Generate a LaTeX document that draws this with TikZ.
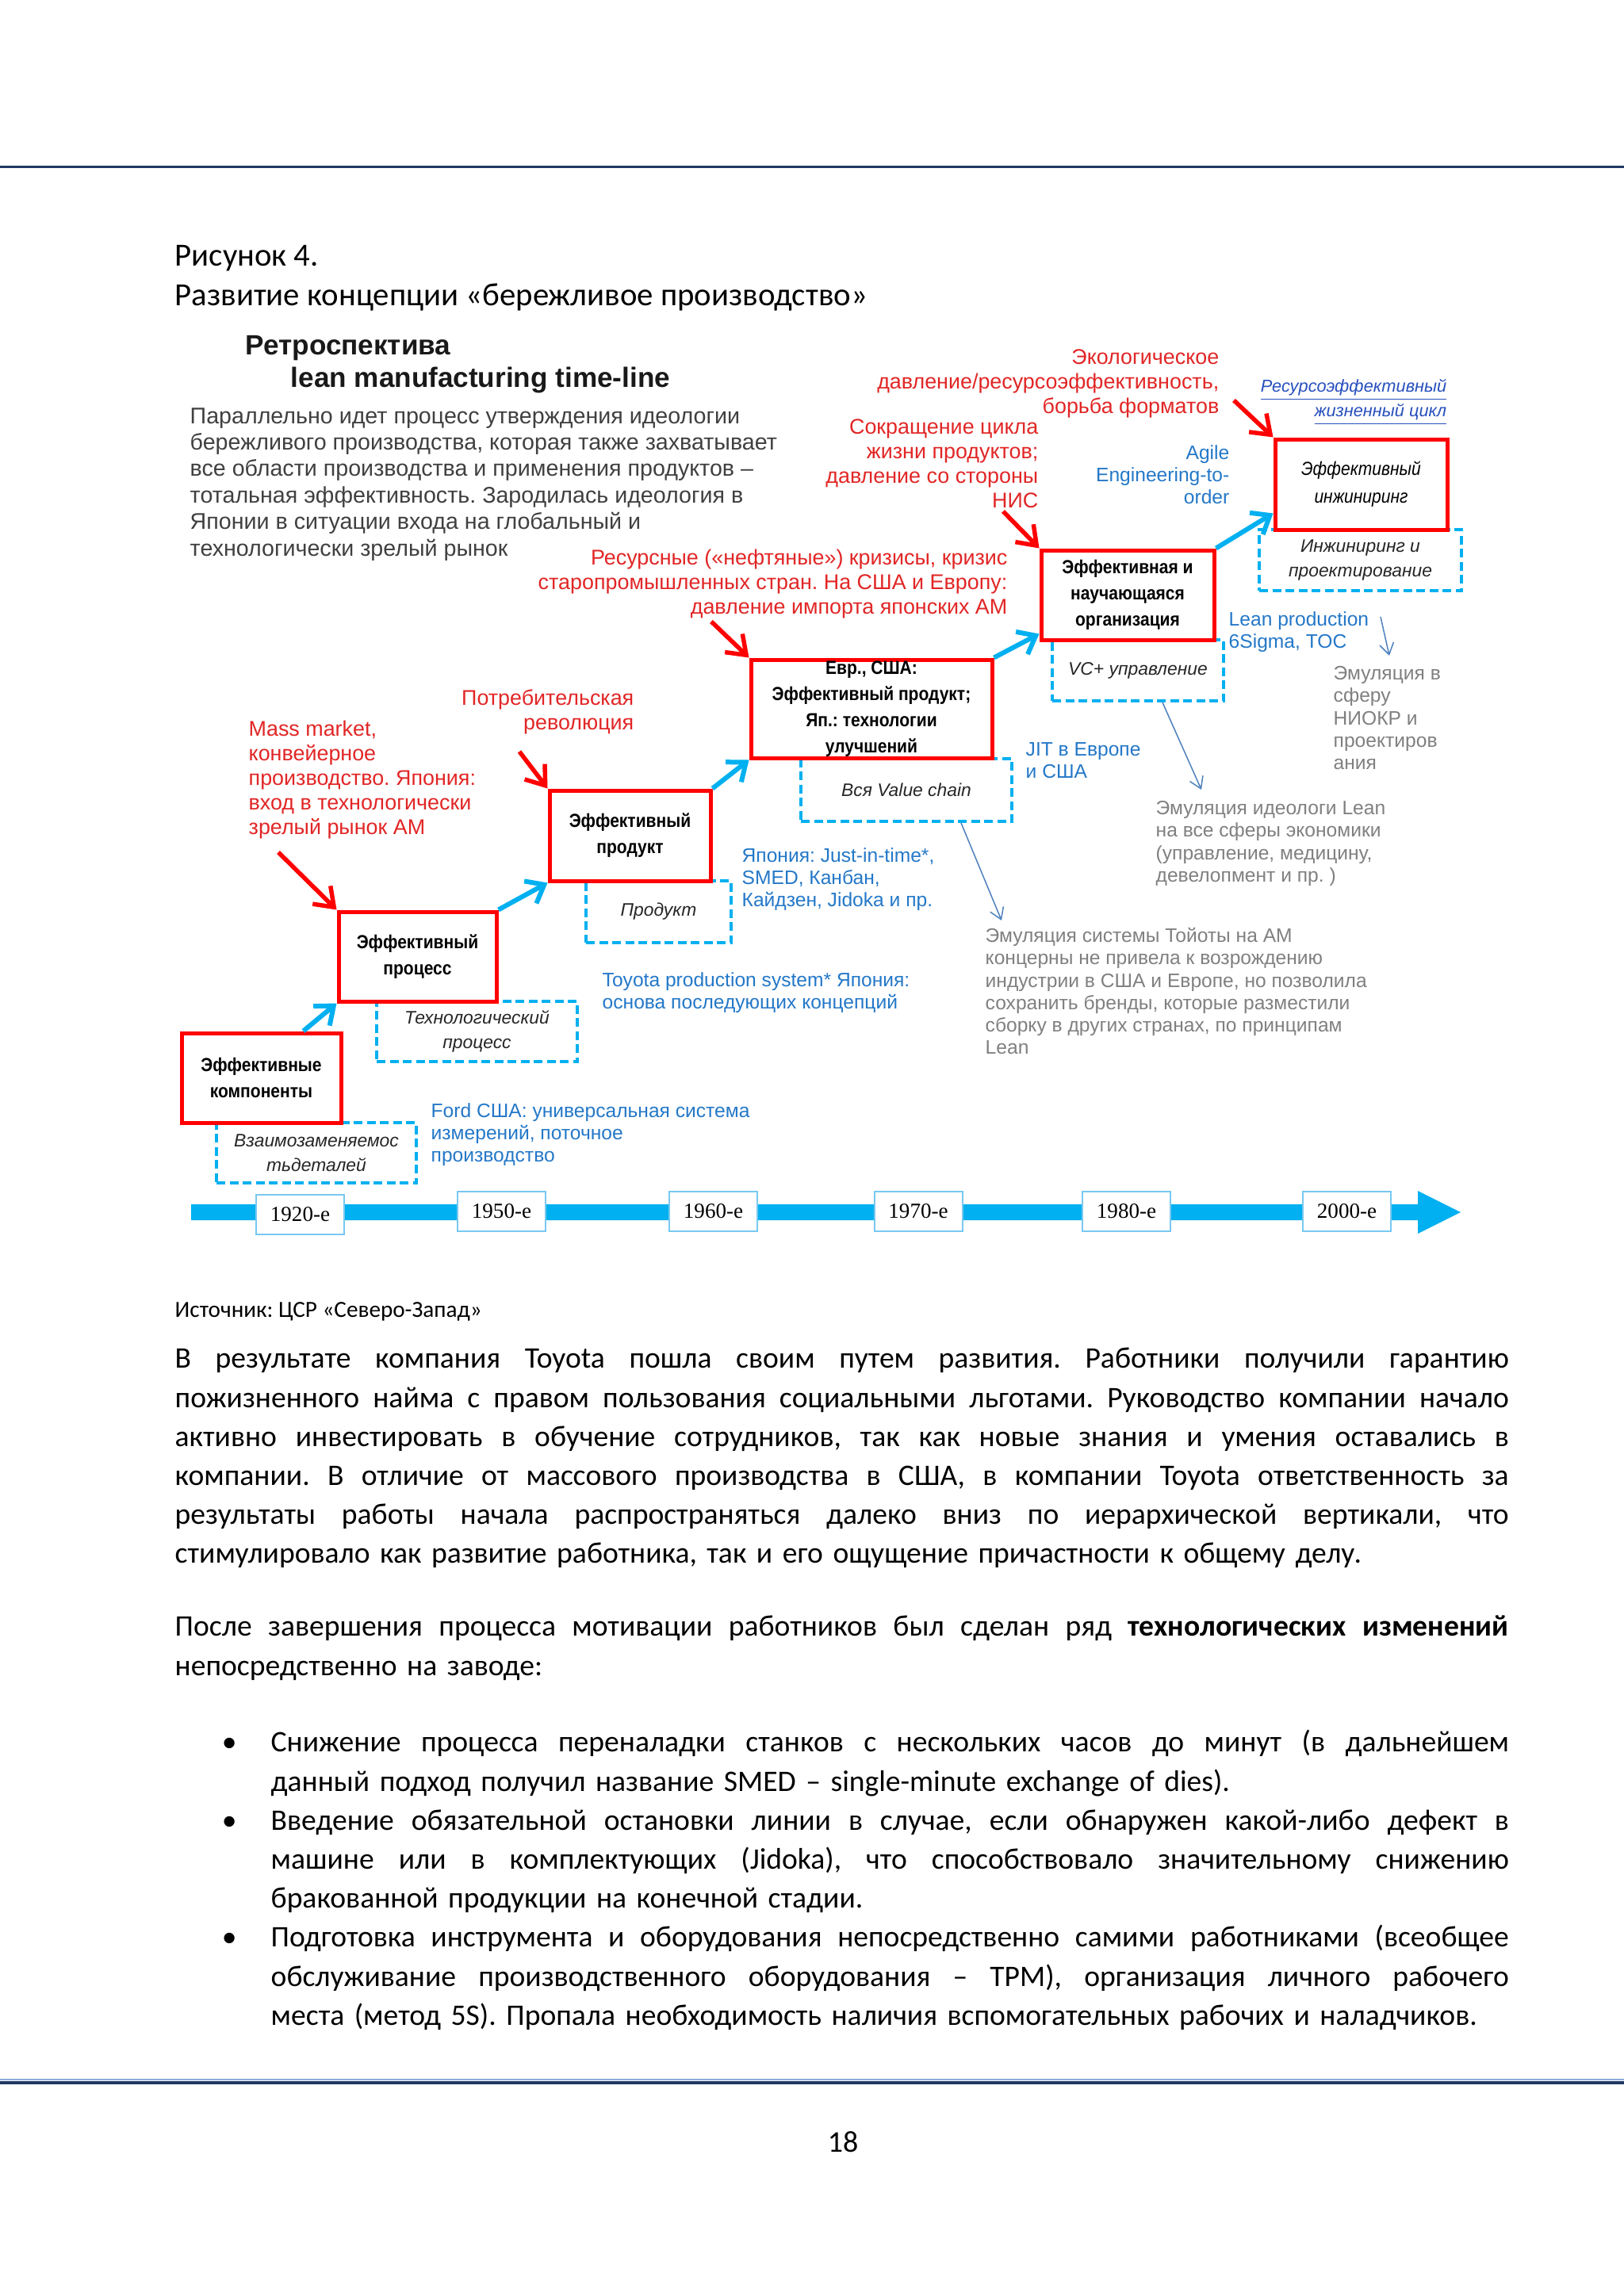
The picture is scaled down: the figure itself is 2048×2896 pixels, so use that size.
\documentclass[tikz,border=0pt]{standalone}
\usepackage{fontspec}
\setmainfont{Carlito}
\newfontfamily\arialf{Liberation Sans}
\newfontfamily\boxf[FakeStretch=0.88]{Liberation Sans}
\newfontfamily\yearf{Liberation Serif}
\usetikzlibrary{arrows.meta,calc}
\definecolor{navy}{RGB}{31,56,100}
\definecolor{navylight}{RGB}{142,170,219}
\definecolor{boxred}{RGB}{255,0,0}
\definecolor{txtred}{RGB}{226,38,38}
\definecolor{cyanb}{RGB}{0,176,240}
\definecolor{txtblue}{RGB}{36,120,200}
\definecolor{linkblue}{RGB}{40,80,190}
\definecolor{txtgray}{RGB}{128,128,128}
\definecolor{descgray}{RGB}{64,64,64}
\definecolor{thinblue}{RGB}{79,129,189}
\definecolor{yearborder}{RGB}{120,200,240}
\newlength\jw
\newcommand\jl[1]{\par\noindent\hbox to \jw{\spaceskip=\fontdimen2\font plus 3\fontdimen2\font minus 0.3\fontdimen2\font\relax #1}}
\newcommand\lastl[1]{\par\noindent\hbox{#1}}
\hbadness=10000 \hfuzz=50pt
\frenchspacing
\tikzset{
 redbox/.style={draw=boxred, line width=0.5mm, fill=white, inner sep=0pt, align=center, text=black, font=\boxf\bfseries\fontsize{6.8}{9.4}\selectfont},
 dashbox/.style={draw=cyanb, line width=0.4mm, dash pattern=on 1.1mm off 0.55mm, inner sep=0pt, align=center, text=black!85, font=\arialf\itshape\fontsize{6.5}{8.8}\selectfont},
 bluearrow/.style={draw=cyanb, line width=0.6mm, -{Straight Barb[length=2mm,width=3.2mm]}},
 redarrow/.style={draw=boxred, line width=0.55mm, -{Straight Barb[length=2.2mm,width=3.2mm]}},
 thinarrow/.style={draw=thinblue, line width=0.15mm, -{Straight Barb[length=1.4mm,width=1.8mm]}},
 redtxt/.style={inner sep=0pt, text=txtred, font=\arialf\fontsize{7.65}{8.82}\selectfont},
 bluetxt/.style={inner sep=0pt, text=txtblue, font=\arialf\fontsize{7.0}{7.97}\selectfont},
 graytxt/.style={inner sep=0pt, text=txtgray, font=\arialf\fontsize{7}{8.05}\selectfont},
 desctxt/.style={inner sep=0pt, text=descgray, align=left, font=\arialf\fontsize{8.15}{9.5}\selectfont},
 yearbox/.style={draw=yearborder, line width=0.2mm, fill=white, inner sep=0pt, minimum width=11.1mm, minimum height=5mm, font=\yearf\fontsize{7.7}{9}\selectfont},
 bodytxt/.style={inner sep=0pt, anchor=north west, font=\fontsize{10.7}{14}\selectfont},
 headtxt/.style={inner sep=0, anchor=base west, font=\fontsize{11.6}{14}\selectfont},
}
\begin{document}
\begin{tikzpicture}[x=0.1mm,y=-0.1mm]
\useasboundingbox (0,0) rectangle (2048,2896);
\fill[white] (0,0) rectangle (2048,2896);
% page rules
\draw[navy, line width=0.3mm] (0,211) -- (2048,211);
\draw[navylight, line width=0.15mm] (0,2623) -- (2048,2623);
\draw[navy, line width=0.35mm] (0,2627) -- (2048,2627);
% headings
\node[headtxt] (fig) at (220,336) {Рисунок 4.};
\node[headtxt] (figt) at (220,386) {Развитие концепции «бережливое производство»};
% diagram title
\node[inner sep=0, anchor=base west, font=\arialf\bfseries\fontsize{10}{12}\selectfont, text=black!90] (t1) at (309,447) {Ретроспектива};
\node[inner sep=0, anchor=base west, font=\arialf\bfseries\fontsize{10}{12}\selectfont, text=black!90] (t2) at (366,489) {lean manufacturing time-line};
\node[desctxt, anchor=north west] (desc) at (239,510) {\strut Параллельно идет процесс утверждения идеологии\\бережливого производства, которая также захватывает\\все области производства и применения продуктов –\\тотальная эффективность. Зародилась идеология в\\Японии в ситуации входа на глобальный и\\технологически зрелый рынок};
% dashed boxes
\node[dashbox, minimum width=25.2mm, minimum height=7.6mm] (D1) at (399,1454) {Взаимозаменяемос\\тьдеталей};
\node[dashbox, minimum width=25.3mm, minimum height=7.6mm] (D2) at (601.5,1301) {Технологический\\процесс};
\node[dashbox, minimum width=18.3mm, minimum height=7.8mm] (D3) at (830.5,1150) {Продукт};
\node[dashbox, minimum width=26.6mm, minimum height=7.9mm] (D4) at (1143,996.5) {Вся Value chain};
\node[dashbox, minimum width=21.6mm, minimum height=7.7mm] (D5) at (1435,845.5) {VC+ управление};
\node[dashbox, minimum width=25.5mm, minimum height=7.7mm] (D6) at (1715.5,706.5) {Инжиниринг и\\проектирование};
% red boxes
\node[redbox, minimum width=20.1mm, minimum height=11.3mm] (R1) at (329.5,1359.5) {Эффективные\\компоненты};
\node[redbox, minimum width=19.9mm, minimum height=11.3mm] (R2) at (526.5,1206.5) {Эффективный\\процесс};
\node[redbox, minimum width=20.3mm, minimum height=11.4mm] (R3) at (794.5,1054) {Эффективный\\продукт};
\node[redbox, minimum width=30.4mm, minimum height=12.4mm] (R4) at (1099,894) {Евр., США:\\Эффективный продукт;\\Яп.: технологии\\улучшений};
\node[redbox, minimum width=21.8mm, minimum height=11.3mm] (R5) at (1422,750.5) {Эффективная и\\научающаяся\\организация};
\node[redbox, minimum width=21.7mm, minimum height=11.4mm, font=\boxf\itshape\fontsize{6.8}{10}\selectfont] (R6) at (1716.5,611) {Эффективный\\инжиниринг};
% blue step arrows
\draw[bluearrow] ([xshift=-5mm]R1.north east) -- (R2.south west);
\draw[bluearrow] (R2.north east) -- (R3.south west);
\draw[bluearrow] (R3.north east) -- (R4.south west);
\draw[bluearrow] (R4.north east) -- ([yshift=1mm]R5.south west);
\draw[bluearrow] (R5.north east) -- ([yshift=2.3mm]R6.south west);
% red texts
\node[redtxt, anchor=north west, align=left] (m1) at (313,906) {\strut Mass market,\\конвейерное\\производство. Япония:\\вход в технологически\\зрелый рынок АМ};
\node[redtxt, anchor=north east, align=right] (m2) at (800,867) {\strut Потребительская\\революция};
\node[redtxt, anchor=north east, align=right] (m3) at (1271,690) {\strut Ресурсные («нефтяные»)  кризисы, кризис\\старопромышленных стран. На США и Европу:\\давление импорта японских АМ};
\node[redtxt, anchor=north east, align=right] (m4) at (1310,525) {\strut Сокращение цикла\\жизни продуктов;\\давление со стороны\\НИС};
\node[redtxt, anchor=north east, align=right] (m5) at (1538,437) {\strut Экологическое\\давление/ресурсоэффективность,\\борьба форматов};
% red arrows
\coordinate (ra1) at (351,1075);
\coordinate (ra2) at (655,948);
\coordinate (ra3) at (897,784);
\coordinate (ra4) at (1265,645);
\coordinate (ra5) at (1556,505);
\draw[redarrow] (ra1) -- (R2.north west);
\draw[redarrow] (ra2) -- (R3.north west);
\draw[redarrow] (ra3) -- (R4.north west);
\draw[redarrow] (ra4) -- (R5.north west);
\draw[redarrow] (ra5) -- (R6.north west);
% blue texts
\node[inner sep=0pt, anchor=north east, align=right, text=linkblue, font=\arialf\itshape\fontsize{6.2}{7.1}\selectfont] (lk) at (1825,476) {\strut\underline{Ресурсоэффективный}\\\underline{жизненный цикл}};
\node[bluetxt, anchor=north east, align=right] (b1) at (1551,559) {\strut Agile\\Engineering-to-\\order};
\node[bluetxt, anchor=north west, align=left] (b2) at (1549,769) {\strut Lean production\\6Sigma, TOC};
\node[bluetxt, anchor=north west, align=left] (b3) at (1293,933) {\strut JIT в Европе\\и США};
\node[bluetxt, anchor=north west, align=left] (b4) at (935,1067) {\strut Япония: Just-in-time*,\\SMED, Канбан,\\Кайдзен, Jidoka и пр.};
\node[bluetxt, anchor=north west, align=left] (b5) at (759,1224) {\strut Toyota production system* Япония:\\основа последующих концепций};
\node[bluetxt, anchor=north west, align=left] (b6) at (543,1389) {\strut Ford США: универсальная система\\измерений,  поточное\\производство};
% gray texts
\node[graytxt, anchor=north west, align=left] (g1) at (1681,837) {\strut Эмуляция в\\сферу\\НИОКР и\\проектиров\\ания};
\node[graytxt, anchor=north west, align=left] (g2) at (1457,1007) {\strut Эмуляция идеологи Lean\\на все сферы экономики\\(управление, медицину,\\девелопмент и пр. )};
\node[graytxt, anchor=north west, align=left] (g3) at (1242,1168) {\strut Эмуляция системы Тойоты на АМ\\концерны не привела к  возрождению\\индустрии в США и Европе, но позволила\\сохранить бренды, которые разместили\\сборку в других странах, по принципам\\Lean};
% thin arrows
\coordinate (ta1) at (1263,1161);
\coordinate (ta2) at (1515,996);
\coordinate (ta3s) at (1741,778);
\coordinate (ta3) at (1752,827);
\draw[thinarrow] ([xshift=20.4mm]D4.south west) -- (ta1);
\draw[thinarrow] ([xshift=14.1mm]D5.south west) -- (ta2);
\draw[thinarrow] (ta3s) -- (ta3);
% timeline
\fill[cyanb] (241,1519) -- (1788,1519) -- (1788,1502) -- (1842,1529) -- (1788,1556) -- (1788,1539) -- (241,1539) -- cycle;
\node[yearbox] (y1) at (378.5,1531.5) {1920-е};
\node[yearbox] (y2) at (632.5,1528) {1950-е};
\node[yearbox] (y3) at (899.5,1528) {1960-е};
\node[yearbox] (y4) at (1158,1528) {1970-е};
\node[yearbox] (y5) at (1420.5,1528) {1980-е};
\node[yearbox] (y6) at (1698.5,1528) {2000-е};
% source
\node[inner sep=0, anchor=base west, font=\fontsize{8.3}{10}\selectfont] (src) at (220,1661) {Источник: ЦСР «Северо-Запад»};
% body text
\node[bodytxt, text width=168.2mm] (p1) at (220,1676) {\setlength\jw{168.2mm}%
\jl{\strut В результате компания Toyota пошла своим путем развития. Работники получили гарантию}%
\jl{пожизненного найма с правом пользования социальными льготами. Руководство компании начало}%
\jl{активно инвестировать в обучение сотрудников, так как новые знания и умения оставались в}%
\jl{компании. В отличие от массового производства в США, в компании Toyota ответственность за}%
\jl{результаты работы начала распространяться далеко вниз по иерархической вертикали, что}%
\lastl{стимулировало как развитие работника, так и его ощущение причастности к общему делу.}};
\node[bodytxt, text width=168.2mm] (p2) at (220,2014) {\setlength\jw{168.2mm}%
\jl{\strut После завершения процесса мотивации работников был сделан ряд \textbf{технологических изменений}}%
\lastl{непосредственно на заводе:}};
\node[bodytxt, text width=156.1mm] (p3) at (341,2160) {\setlength\jw{156.1mm}%
\jl{\strut\llap{\textbullet\hspace{4.3mm}}Снижение процесса переналадки станков с нескольких часов до минут (в дальнейшем}%
\lastl{данный подход получил название SMED – single-minute exchange of dies).}%
\jl{\strut\llap{\textbullet\hspace{4.3mm}}Введение обязательной остановки линии в случае, если обнаружен какой-либо дефект в}%
\jl{машине или в комплектующих (Jidoka), что способствовало значительному снижению}%
\lastl{бракованной продукции на конечной стадии.}%
\jl{\strut\llap{\textbullet\hspace{4.3mm}}Подготовка инструмента и оборудования непосредственно самими работниками (всеобщее}%
\jl{обслуживание производственного оборудования – TPM), организация личного рабочего}%
\lastl{места (метод 5S). Пропала необходимость наличия вспомогательных рабочих и наладчиков.}};
% page number
\node[inner sep=0, anchor=base, font=\fontsize{10.8}{14}\selectfont] (pg) at (1063,2714) {18};
\end{tikzpicture}
\end{document}
